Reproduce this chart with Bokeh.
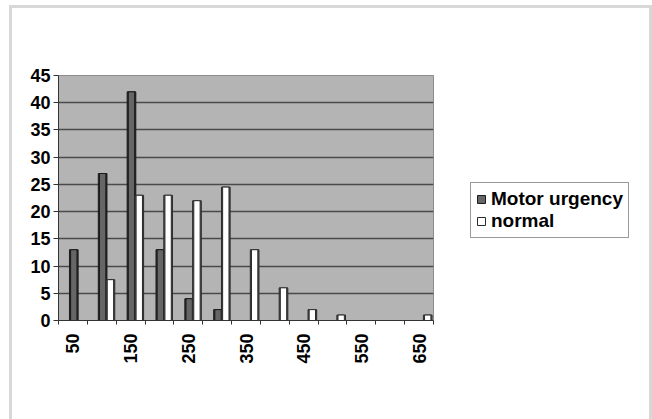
import math
from bokeh.plotting import figure
from bokeh.models import (ColumnDataSource, FixedTicker, Legend, LegendItem)
from bokeh.embed import file_html
from bokeh.resources import INLINE

# ---- data ----
categories = ["50", "100", "150", "200", "250", "300", "350",
              "400", "450", "500", "550", "600", "650"]
motor_urgency = [13, 27, 42, 13, 4, 2, 0, 0, 0, 0, 0, 0, 0]
normal = [0, 7.5, 23, 23, 22, 24.5, 13, 6, 2, 1, 0, 0, 1]
y_ticks = [0, 5, 10, 15, 20, 25, 30, 35, 40, 45]
label_every = 2

n = len(categories)
centers = [i + 0.5 for i in range(n)]
src = ColumnDataSource(dict(
    x_m=[c + 0.03 for c in centers],
    x_n=[c + 0.30 for c in centers],
    motor=motor_urgency,
    normal=normal,
))

FONT = "Liberation Sans"

frame_css = """
:host::after {
  content: "";
  position: absolute;
  left: 9px; top: 5px;
  width: 637px; height: 414px;
  border: 3px solid #d8d8d8;
  border-bottom: none;
  pointer-events: none;
}
"""

p = figure(frame_width=375, frame_height=245,
           output_backend="svg", toolbar_location=None,
           x_range=(0, n), y_range=(0, 45),
           min_border_left=58, min_border_right=219,
           min_border_top=75, min_border_bottom=99,
           stylesheets=[frame_css])

p.background_fill_color = "#b4b4b4"
p.border_fill_color = "white"
p.outline_line_color = "#8c8c8c"
p.outline_line_width = 1

# bars (depth side first, then front face)
side_m = p.vbar(x="x_m", top="motor", width=0.3, source=src,
                fill_color="#2e2e2e", line_color="#1a1a1a", line_width=1)
r_m = p.vbar(x="x_m", top="motor", width=0.22, source=src,
             fill_color="#666666", line_color="#1a1a1a", line_width=1)
side_n = p.vbar(x="x_n", top="normal", width=0.3, source=src,
                fill_color="#5a5a5a", line_color="#2a2a2a", line_width=1)
r_n = p.vbar(x="x_n", top="normal", width=0.22, source=src,
             fill_color="white", line_color="#2a2a2a", line_width=1)

# grid
p.xgrid.grid_line_color = None
p.ygrid.ticker = FixedTicker(ticks=y_ticks)
p.ygrid.grid_line_color = "#4a4a4a"
p.ygrid.grid_line_width = 1.5

# y axis
p.yaxis.ticker = FixedTicker(ticks=y_ticks)
p.yaxis.major_label_text_font = FONT
p.yaxis.major_label_text_font_style = "bold"
p.yaxis.major_label_text_font_size = "18px"
p.yaxis.major_label_text_color = "black"
p.yaxis.axis_line_color = "#333333"
p.yaxis.major_tick_line_color = "#333333"
p.yaxis.major_tick_in = 0
p.yaxis.major_tick_out = 5
p.yaxis.minor_tick_line_color = None
p.yaxis.major_label_standoff = 3

# x axis
label_pos = [centers[i] for i in range(0, n, label_every)]
p.xaxis.ticker = FixedTicker(ticks=label_pos, minor_ticks=list(range(n + 1)))
p.xaxis.major_label_overrides = {centers[i]: categories[i] for i in range(0, n, label_every)}
p.xaxis.major_label_orientation = math.pi / 2
p.xaxis.major_label_text_font = FONT
p.xaxis.major_label_text_font_style = "bold"
p.xaxis.major_label_text_font_size = "18px"
p.xaxis.major_label_text_color = "black"
p.xaxis.major_tick_line_color = None
p.xaxis.minor_tick_line_color = "#333333"
p.xaxis.minor_tick_in = 0
p.xaxis.minor_tick_out = 4
p.xaxis.axis_line_color = "#333333"
p.xaxis.major_label_standoff = 7

# legend (outside, right of the plot area)
legend = Legend(items=[LegendItem(label="Motor urgency", renderers=[r_m]),
                       LegendItem(label="normal", renderers=[r_n])],
                location=(37, 82))
legend.label_text_font = FONT
legend.label_text_font_style = "bold"
legend.label_text_font_size = "19px"
legend.label_text_color = "black"
legend.glyph_width = 10
legend.glyph_height = 10
legend.label_standoff = 5
legend.padding = 5
legend.spacing = 0
legend.margin = 0
legend.border_line_color = "#333333"
legend.border_line_width = 1
legend.background_fill_color = "white"
legend.label_height = 20
p.add_layout(legend, "right")

open("out.html", "w").write(file_html(p, INLINE))
